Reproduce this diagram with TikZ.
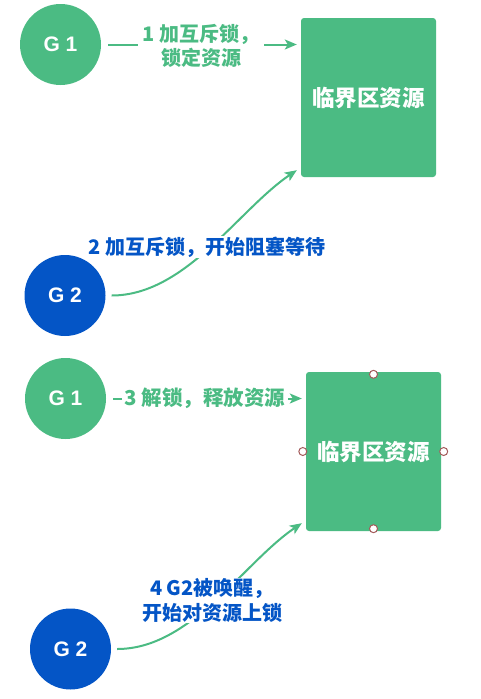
\documentclass[tikz,border=0pt]{standalone}
\usepackage{fontspec}
\newfontfamily\cjk{Noto Sans CJK SC}
\newfontfamily\gfont{Liberation Sans}
\usetikzlibrary{arrows.meta}
\definecolor{grn}{HTML}{4BBB83}
\definecolor{blu}{HTML}{0455C6}
\definecolor{hdl}{HTML}{A35A5A}
\tikzset{
  gcirc/.style={circle, minimum size=81pt, inner sep=0pt, text=white, font=\gfont\bfseries\fontsize{21}{24}\selectfont},
  ggreen/.style={gcirc, fill=grn},
  gblue/.style={gcirc, fill=blu},
  resbox/.style={rectangle, rounded corners=3pt, fill=grn, minimum width=135pt, minimum height=159pt, inner sep=0pt, text=white, font=\cjk\bfseries\fontsize{22.5}{26}\selectfont},
  conn/.style={draw=grn, line width=2pt, -{Stealth[length=12pt,width=10pt,inset=3pt]}},
  glbl/.style={fill=white, inner sep=1pt, align=center, text=grn, font=\cjk\bfseries\fontsize{20}{24}\selectfont},
  blbl/.style={fill=white, inner sep=1pt, align=center, text=blu, font=\cjk\bfseries\fontsize{20}{24.5}\selectfont},
  handle/.style={circle, draw=hdl, fill=white, line width=1pt, minimum size=8pt, inner sep=0pt},
}
\begin{document}
\begin{tikzpicture}[x=1pt,y=-1pt]
\useasboundingbox (0,0) rectangle (480,699);
% top half
\node[ggreen] (g1a) at (60.5,44.5) {G 1};
\node[resbox] (box1) at (368.5,97.5) {临界区资源};
\node[gblue] (g2a) at (65,295.5) {G 2};
\draw[conn, shorten <=7pt, shorten >=4pt] (g1a.east) -- (g1a.east -| box1.west)
  node[glbl, midway, yshift=-1pt, inner xsep=5pt] (l1) {1 加互斥锁，\\锁定资源};
\draw[conn, shorten <=6pt] (g2a.east) .. controls +(80,0) and +(-58,39) .. ([shift={(-4,-7)}]box1.south west);
\node[blbl] (l2) at (207,247) {2 加互斥锁，开始阻塞等待};
% bottom half
\node[ggreen] (g1b) at (65.5,398.5) {G 1};
\node[resbox] (box2) at (373.5,451.5) {临界区资源};
\node[gblue] (g2b) at (70.5,649) {G 2};
\draw[conn, shorten <=7pt, shorten >=4pt] (g1b.east) -- (g1b.east -| box2.west)
  node[glbl, midway, xshift=-1pt, inner xsep=3pt, font=\cjk\bfseries\fontsize{20.5}{24}\selectfont] (l3) {3 解锁，释放资源};
\draw[conn, shorten <=6pt] (g2b.east) .. controls +(80,0) and +(-58,39) .. ([shift={(-4,-8)}]box2.south west);
\node[blbl] (l4) at (212,600.5) {4 G2被唤醒，\\开始对资源上锁};
\node[handle] (h1) at ([yshift=-2.5pt]box2.north) {};
\node[handle] (h2) at ([yshift=2.5pt]box2.south) {};
\node[handle] (h3) at ([xshift=-3pt]box2.west) {};
\node[handle] (h4) at ([xshift=2.5pt]box2.east) {};
\end{tikzpicture}
\end{document}
